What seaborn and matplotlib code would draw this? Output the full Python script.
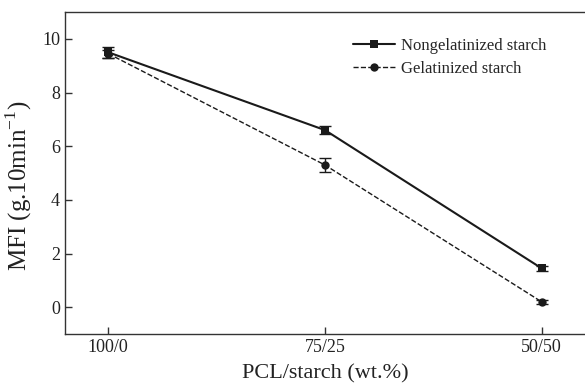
import pandas as pd
import numpy as np
import matplotlib.pyplot as plt
import seaborn as sns

# Data
ratios = ["100/0", "75/25", "50/50"]
nongel_mfi = [9.5, 6.6, 1.45]
nongel_err = [0.2, 0.15, 0.1]
gel_mfi = [9.45, 5.3, 0.2]
gel_err = [0.15, 0.25, 0.08]

sns.set_style("ticks")
plt.rcParams['font.family'] = ['Liberation Serif', 'DejaVu Serif']
plt.rcParams['mathtext.fontset'] = 'custom'
plt.rcParams['mathtext.rm'] = 'Liberation Serif'

pos = np.arange(len(ratios))
df = pd.DataFrame({
    "pos": np.concatenate([pos, pos]),
    "MFI": nongel_mfi + gel_mfi,
    "series": ["Nongelatinized starch"] * 3 + ["Gelatinized starch"] * 3,
})

fig = plt.figure(figsize=(5.85, 3.88), dpi=100)
ax = fig.add_axes([0.111, 0.139, 0.889, 0.830])

# lines with markers
sns.lineplot(data=df[df.series == "Nongelatinized starch"], x="pos", y="MFI",
             color="#1a1a1a", lw=1.5, marker="s", markersize=6, markeredgewidth=0,
             label="Nongelatinized starch", ax=ax)
sns.lineplot(data=df[df.series == "Gelatinized starch"], x="pos", y="MFI",
             color="#1a1a1a", lw=1.0, ls="--", dashes=(5, 3.5), marker="o", markersize=6,
             markeredgewidth=0, label="Gelatinized starch", ax=ax)

# error bars
ax.errorbar(pos, nongel_mfi, yerr=nongel_err, fmt="none", ecolor="#1a1a1a",
            elinewidth=1, capsize=4, capthick=1)
ax.errorbar(pos, gel_mfi, yerr=gel_err, fmt="none", ecolor="#1a1a1a",
            elinewidth=1, capsize=4, capthick=1)

ax.set_xlim(-0.2, 2.2)
ax.set_ylim(-1, 11)
ax.set_xticks(pos)
ax.set_xticklabels(ratios)
ax.set_yticks([0, 2, 4, 6, 8, 10])
ax.tick_params(direction="in", length=5, width=1, labelsize=13, colors="#333333",
               labelcolor="#222222")

ax.set_xlabel("PCL/starch (wt.%)", fontsize=16, color="#222222", labelpad=6)
ax.set_ylabel("MFI (g.10min$^{\\mathregular{-1}}$)", fontsize=18, color="#222222")
ax.yaxis.set_label_coords(-0.06, 0.46)

for s in ["left", "top", "bottom"]:
    ax.spines[s].set_color("#333333")
    ax.spines[s].set_linewidth(1)
ax.spines["right"].set_visible(False)

ax.legend(loc="upper left", bbox_to_anchor=(0.525, 0.965), frameon=False,
          fontsize=12, handlelength=2.5, labelspacing=0.4, handletextpad=0.4)

fig.savefig("out.png", dpi=100)
